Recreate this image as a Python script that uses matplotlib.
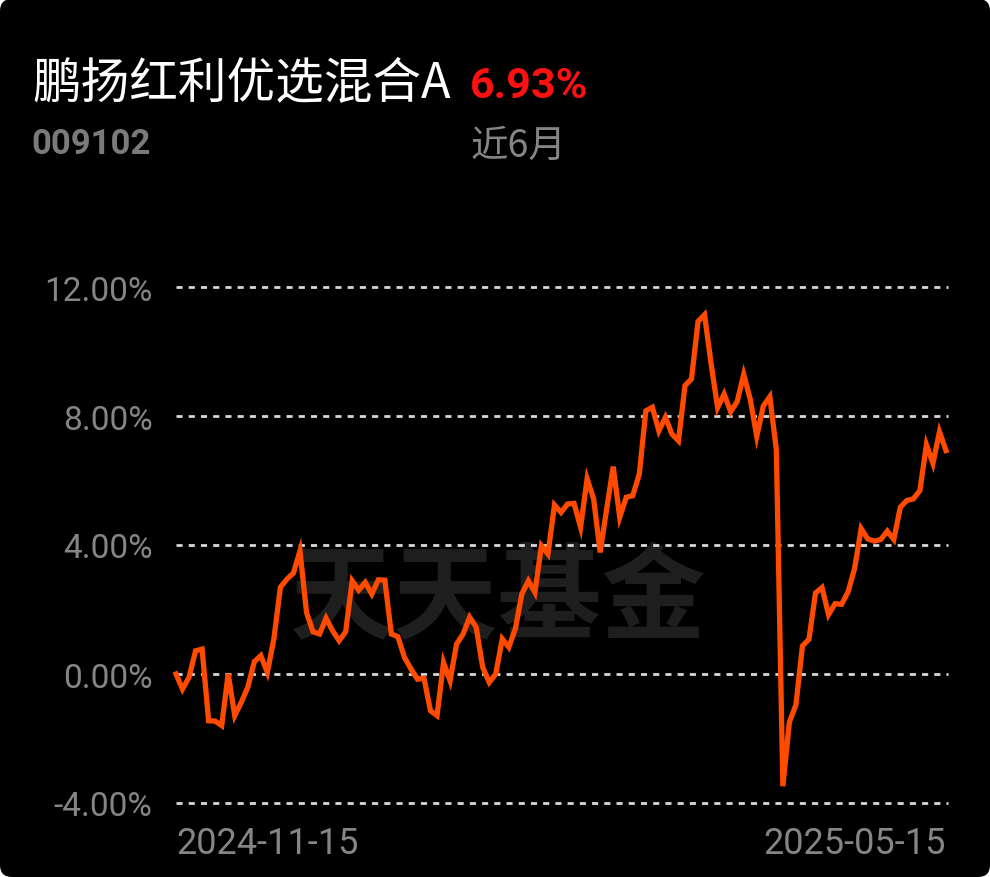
import matplotlib
matplotlib.use('Agg')
import matplotlib.pyplot as plt
from matplotlib.patches import FancyBboxPatch
from matplotlib.transforms import IdentityTransform

FUND_NAME = '鹏扬红利优选混合A'
FUND_CODE = '009102'
RETURN_TEXT = '6.93%'
PERIOD_TEXT = '近6月'
WATERMARK = '天天基金'

# cumulative return, %
returns = [
    0.0, -0.47, -0.1, 0.72, 0.77, -1.45, -1.46, -1.6, 0.0, -1.29,
    -0.88, -0.41, 0.38, 0.57, 0.05, 1.09, 2.69, 2.94, 3.13, 3.82,
    1.91, 1.31, 1.24, 1.73, 1.34, 1.03, 1.31, 2.89, 2.6, 2.84,
    2.48, 2.92, 2.91, 1.24, 1.16, 0.52, 0.16, -0.16, -0.13, -1.14,
    -1.29, 0.36, -0.21, 0.93, 1.24, 1.76, 1.45, 0.21, -0.26, 0.0,
    1.09, 0.83, 1.4, 2.48, 2.89, 2.53, 3.98, 3.72, 5.24, 5.01,
    5.27, 5.29, 4.55, 6.05, 5.43, 3.77, 5.12, 6.43, 4.86, 5.48,
    5.53, 6.2, 8.16, 8.27, 7.54, 7.96, 7.44, 7.23, 8.94, 9.15,
    10.93, 11.14, 9.62, 8.26, 8.68, 8.13, 8.45, 9.29, 8.52, 7.37,
    8.31, 8.6, 6.95, -3.48, -1.49, -0.96, 0.87, 1.08, 2.51, 2.68,
    1.84, 2.18, 2.16, 2.55, 3.28, 4.51, 4.19, 4.12, 4.17, 4.43,
    4.17, 5.17, 5.38, 5.43, 5.69, 7.11, 6.53, 7.51, 6.93,
]
y_ticks = [-4, 0, 4, 8, 12]
y_labels = ['-4.00%', '0.00%', '4.00%', '8.00%', '12.00%']
x_labels = ['2024-11-15', '2025-05-15']

W, H = 990, 878
LINE = '#ff4a00'
GRID = '#d8d8d8'
GRAY = '#858585'


def main():
    fig = plt.figure(figsize=(W / 100, H / 100), dpi=100, facecolor='white')
    bg = FancyBboxPatch((0, 0), W, H, boxstyle='round,pad=0,rounding_size=12',
                        facecolor='black', edgecolor='none',
                        transform=IdentityTransform(), zorder=-10)
    fig.add_artist(bg)

    ax = fig.add_axes([176 / W, (H - 804) / H, 770 / W, 516 / H])
    ax.set_facecolor('none')
    n = len(returns)
    ax.set_xlim(0, n - 1)
    ax.set_ylim(-4, 12)

    ax.text(0.418, 0.395, WATERMARK, transform=ax.transAxes, ha='center',
            va='center', fontsize=75, fontweight='bold', color='#1e1e1e',
            family=['Noto Sans CJK SC', 'DejaVu Sans'], zorder=0)

    ax.hlines(y_ticks, 0, n - 0.7, colors=GRID, linestyles=(0, (2.2, 2.2)),
              linewidth=2.0, clip_on=False, zorder=1)
    ax.plot(range(n), returns, color=LINE, linewidth=3.8,
            solid_joinstyle='miter', zorder=3, clip_on=False)

    for s in ax.spines.values():
        s.set_visible(False)
    ax.set_yticks(y_ticks)
    ax.set_yticklabels(y_labels)
    ax.set_xticks([0, n - 1])
    ax.set_xticklabels(x_labels)
    ax.tick_params(axis='y', length=0, pad=17, labelsize=24, labelcolor=GRAY)
    ax.tick_params(axis='x', length=0, pad=16, labelsize=26, labelcolor=GRAY)
    for lab in ax.get_yticklabels() + ax.get_xticklabels():
        lab.set_family('Roboto')
    xl = ax.get_xticklabels()
    xl[0].set_ha('left')
    xl[1].set_ha('right')

    fig.text(32 / W, 1 - 83 / H, FUND_NAME, ha='left', va='center',
             fontsize=35, color='white', family=['Noto Sans CJK SC', 'DejaVu Sans'])
    fig.text(470 / W, 1 - 86 / H, RETURN_TEXT, ha='left', va='center',
             fontsize=31, fontweight='bold', color='#ff1010', family='Roboto')
    fig.text(31 / W, 1 - 145 / H, FUND_CODE, ha='left', va='center',
             fontsize=25, fontweight='bold', color='#7a7a7a', family='Roboto')
    fig.text(471 / W, 1 - 146 / H, PERIOD_TEXT, ha='left', va='center',
             fontsize=27, color=GRAY, family=['Noto Sans CJK SC', 'DejaVu Sans'])

    fig.savefig('out.png', dpi=100, facecolor='white')
    plt.close(fig)


if __name__ == '__main__':
    main()
